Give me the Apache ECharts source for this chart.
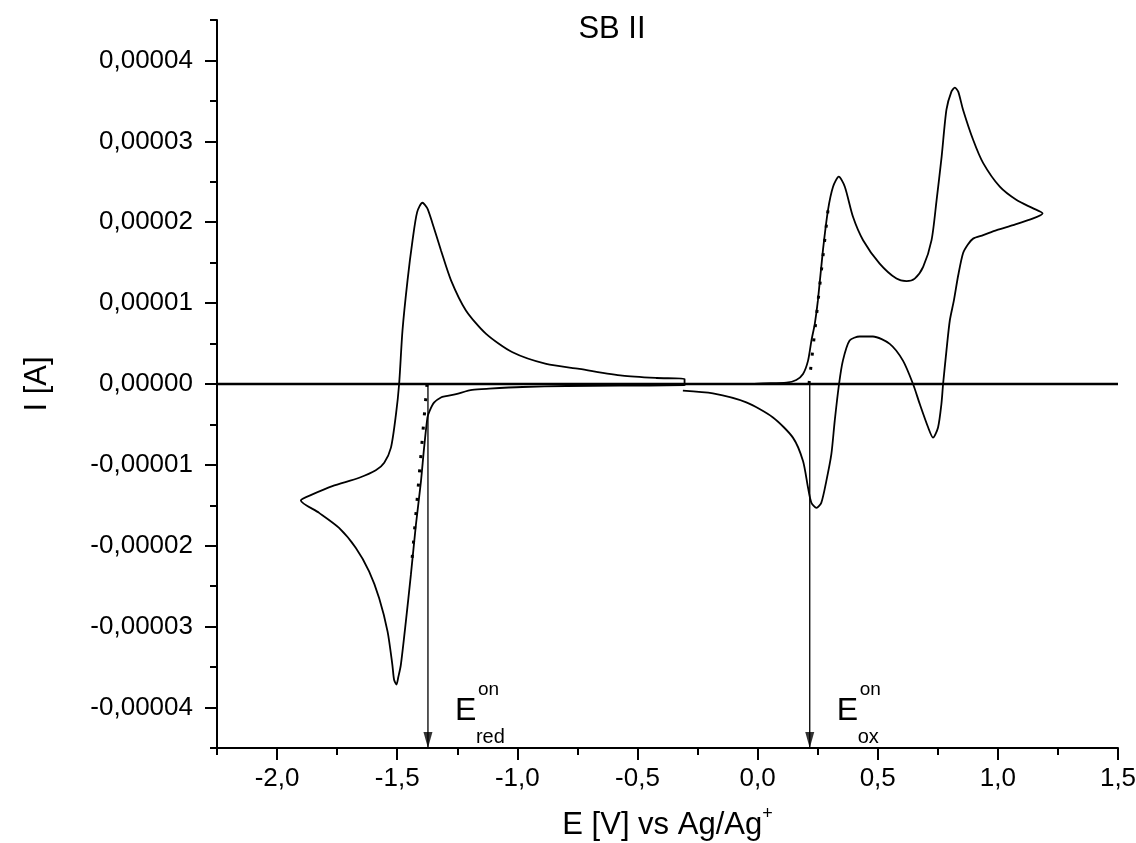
<!DOCTYPE html>
<html>
<head>
<meta charset="utf-8">
<script src="https://cdn.jsdelivr.net/npm/echarts@6/dist/echarts.min.js"></script>
<style>html,body{margin:0;padding:0;background:#fff}#chart{width:1136px;height:843px}</style>
</head>
<body>
<div id="chart"></div>
<script>
// ---- data (potential in V vs Ag/Ag+, current in units of 1e-5 A) ----
const CURRENT_UNIT = 1e-5;
const xTickValues = [-2.0, -1.5, -1.0, -0.5, 0.0, 0.5, 1.0, 1.5];
const yTickValues = [-4, -3, -2, -1, 0, 1, 2, 3, 4];
const xRange = [-2.25, 1.5];
const yRange = [-4.5, 4.5];

// reduction window scan (-0.3 V -> -1.9 V -> -0.3 V)
const redScanE = [-0.304, -0.575, -0.796, -0.979, -1.117, -1.188, -1.255, -1.297, -1.318, -1.346,
  -1.365, -1.374, -1.388, -1.401, -1.422, -1.443, -1.464, -1.485, -1.496, -1.503,
  -1.513, -1.520, -1.540, -1.575, -1.617, -1.672, -1.742, -1.825, -1.901, -1.853,
  -1.770, -1.658, -1.589, -1.554, -1.526, -1.505, -1.492, -1.478, -1.457, -1.436,
  -1.417, -1.395, -1.375, -1.353, -1.318, -1.276, -1.214, -1.130, -1.020, -0.880,
  -0.742, -0.563, -0.421, -0.304, -0.304];
const redScanI = [-0.015, -0.021, -0.025, -0.037, -0.058, -0.074, -0.124, -0.151, -0.166, -0.228,
  -0.331, -0.414, -0.787, -1.200, -1.737, -2.357, -2.937, -3.474, -3.631, -3.715,
  -3.656, -3.474, -3.061, -2.648, -2.316, -2.027, -1.779, -1.593, -1.439, -1.365,
  -1.262, -1.159, -1.067, -0.973, -0.787, -0.372, 0.000, 0.661, 1.282, 1.778,
  2.125, 2.241, 2.175, 1.985, 1.654, 1.282, 0.910, 0.620, 0.392, 0.248,
  0.186, 0.103, 0.074, 0.062, -0.021];

// oxidation window scan (0 V -> 1.19 V -> -0.3 V)
const oxScanE = [-0.033, 0.022, 0.120, 0.161, 0.189, 0.210, 0.224, 0.238, 0.251, 0.272,
  0.293, 0.314, 0.338, 0.363, 0.397, 0.439, 0.508, 0.578, 0.620, 0.654,
  0.689, 0.724, 0.745, 0.766, 0.786, 0.807, 0.821, 0.835, 0.855, 0.897,
  0.939, 1.008, 1.078, 1.147, 1.186,
  1.147, 1.064, 0.995, 0.939, 0.897, 0.876, 0.855, 0.835, 0.817, 0.800,
  0.786, 0.772, 0.765, 0.751, 0.730, 0.710, 0.675, 0.647, 0.605, 0.550,
  0.480, 0.425, 0.383, 0.355, 0.339, 0.321, 0.307, 0.286, 0.265, 0.245,
  0.224, 0.210, 0.189, 0.147, 0.064, -0.047, -0.186, -0.311];
const oxScanI = [-0.002, 0.007, 0.016, 0.050, 0.124, 0.289, 0.537, 0.744, 1.033, 1.654,
  2.150, 2.439, 2.563, 2.439, 2.067, 1.778, 1.489, 1.303, 1.273, 1.303,
  1.447, 1.778, 2.274, 2.811, 3.391, 3.618, 3.664, 3.614, 3.391, 3.019,
  2.730, 2.439, 2.274, 2.171, 2.109,
  2.047, 1.964, 1.902, 1.840, 1.797, 1.728, 1.617, 1.344, 1.033, 0.785,
  0.413, 0.000, -0.248, -0.538, -0.663, -0.538, -0.248, 0.000, 0.289, 0.496,
  0.587, 0.587, 0.537, 0.289, 0.000, -0.455, -0.868, -1.200, -1.469, -1.531,
  -1.469, -1.283, -0.952, -0.663, -0.414, -0.228, -0.117, -0.083];

// onset potentials and tangent (onset construction) lines
const onsetNames = ['red', 'ox'];
const onsetE = [-1.372, 0.217];
const redTangentE = [-1.376, -1.440];
const redTangentI = [0.0, -2.23];
const oxTangentE = [0.214, 0.293];
const oxTangentI = [0.0, 2.15];

// ---- build ----
const FONT = '"Liberation Sans", Arial, Helvetica, sans-serif';
const pts = (xs, ys) => xs.map((x, i) => [x, ys[i] * CURRENT_UNIT]);
const fmtX = v => v.toFixed(1).replace('.', ',');
const fmtY = v => (Math.abs(v) < 1e-12 ? 0 : v).toFixed(5).replace('.', ',');

const chart = echarts.init(document.getElementById('chart'), null, {renderer: 'canvas'});

const axisCommon = {
  type: 'value',
  axisLine: {show: true, onZero: false, lineStyle: {color: '#000', width: 2}},
  splitLine: {show: false},
};

const series = [
  {
    name: 'zero', type: 'line', data: pts(xRange, [0, 0]), showSymbol: false, silent: true,
    lineStyle: {color: '#000', width: 2.5}, z: 3
  },
  {
    name: 'reduction scan', type: 'line', data: pts(redScanE, redScanI), showSymbol: false,
    smooth: 0.25, lineStyle: {color: '#000', width: 1.8}, z: 4
  },
  {
    name: 'oxidation scan', type: 'line', data: pts(oxScanE, oxScanI), showSymbol: false,
    smooth: 0.25, lineStyle: {color: '#000', width: 1.8}, z: 4
  },
  {
    name: 'red tangent', type: 'line', data: pts(redTangentE, redTangentI), showSymbol: false,
    lineStyle: {color: '#000', width: 3, type: [3, 11.3]}, z: 5
  },
  {
    name: 'ox tangent', type: 'line', data: pts(oxTangentE, oxTangentI), showSymbol: false,
    lineStyle: {color: '#000', width: 3, type: [3, 11.3]}, z: 5
  }
];
onsetE.forEach((e, i) => {
  series.push({
    name: 'onset ' + onsetNames[i], type: 'line', data: pts([e, e], [0, yRange[0]]),
    showSymbol: false, lineStyle: {color: '#000', width: 1.3}, z: 5
  });
});
series.push({
  name: 'arrow heads', type: 'scatter', clip: false,
  data: onsetE.map(e => [e, yRange[0] * CURRENT_UNIT]),
  symbol: 'triangle', symbolRotate: 180, symbolSize: [9, 16], symbolOffset: [0, -8],
  itemStyle: {color: '#000'}, z: 6
});

const option = {
  animation: false,
  backgroundColor: '#fff',
  title: {
    text: 'SB II', left: 612, top: 14, textAlign: 'center', padding: 0,
    textStyle: {fontFamily: FONT, fontSize: 31, fontWeight: 'normal', color: '#000'}
  },
  grid: {left: 217, right: 18, top: 20, bottom: 95, containLabel: false, outerBoundsMode: 'none'},
  xAxis: [
    Object.assign({}, axisCommon, {
      min: xRange[0], max: xRange[1], position: 'bottom',
      axisTick: {show: true, inside: false, length: 12, lineStyle: {color: '#000', width: 2}, customValues: xTickValues},
      axisLabel: {customValues: xTickValues, formatter: fmtX, fontFamily: FONT, fontSize: 26, color: '#000', margin: 18},
      name: '{m|E [V] vs Ag/Ag}{s|+}', nameLocation: 'middle', nameGap: 57,
      nameTextStyle: {
        fontFamily: FONT, color: '#000', fontSize: 31,
        rich: {
          m: {fontFamily: FONT, fontSize: 31, color: '#000', lineHeight: 36, verticalAlign: 'bottom'},
          s: {fontFamily: FONT, fontSize: 18, color: '#000', lineHeight: 12, verticalAlign: 'top'}
        }
      }
    }),
    Object.assign({}, axisCommon, {
      min: xRange[0], max: xRange[1], interval: 0.25, position: 'bottom',
      axisLine: {show: false, onZero: false},
      axisTick: {show: true, inside: false, length: 7, lineStyle: {color: '#000', width: 2}},
      axisLabel: {show: false}
    })
  ],
  yAxis: [
    Object.assign({}, axisCommon, {
      min: yRange[0] * CURRENT_UNIT, max: yRange[1] * CURRENT_UNIT, position: 'left',
      axisTick: {show: true, inside: false, length: 12, lineStyle: {color: '#000', width: 2},
        customValues: yTickValues.map(v => v * CURRENT_UNIT)},
      axisLabel: {customValues: yTickValues.map(v => v * CURRENT_UNIT), formatter: fmtY,
        fontFamily: FONT, fontSize: 26, color: '#000', margin: 24},
      name: 'I [A]', nameLocation: 'middle', nameGap: 164, nameRotate: 90,
      nameTextStyle: {fontFamily: FONT, fontSize: 31, color: '#000'}
    }),
    Object.assign({}, axisCommon, {
      min: yRange[0] * CURRENT_UNIT, max: yRange[1] * CURRENT_UNIT, interval: 0.5 * CURRENT_UNIT, position: 'left',
      axisLine: {show: false, onZero: false},
      axisTick: {show: true, inside: false, length: 7, lineStyle: {color: '#000', width: 2}},
      axisLabel: {show: false}
    })
  ],
  series: series
};
chart.setOption(option);

// onset annotations E_red^on and E_ox^on placed relative to the onset arrows
const graphics = [];
onsetE.forEach((e, i) => {
  const px = chart.convertToPixel({xAxisIndex: 0, yAxisIndex: 0}, [e, 0])[0];
  graphics.push({type: 'text', left: px + 27, top: 695, silent: true,
    style: {text: 'E', font: '32px ' + FONT, fill: '#000'}});
  graphics.push({type: 'text', left: px + 48, top: 727, silent: true,
    style: {text: onsetNames[i], font: '20px ' + FONT, fill: '#000'}});
  graphics.push({type: 'text', left: px + 50, top: 680, silent: true,
    style: {text: 'on', font: '19px ' + FONT, fill: '#000'}});
});
chart.setOption({graphic: graphics});
</script>
</body>
</html>
